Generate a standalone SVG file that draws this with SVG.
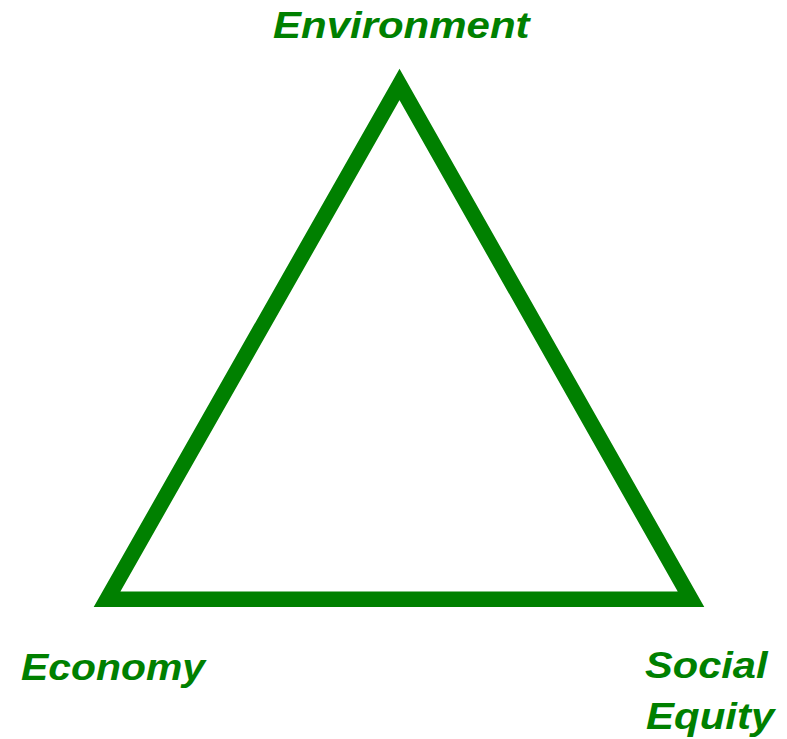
<svg xmlns="http://www.w3.org/2000/svg" width="787" height="739" viewBox="0 0 787 739">
<style>
.lbl{font-family:"Liberation Sans",Arial,sans-serif;font-weight:bold;font-style:italic;font-size:36.5px;fill:#008000}
.tri{fill:none;stroke:#008000;stroke-width:15.5;stroke-linejoin:miter;stroke-miterlimit:10}
</style>
<rect width="787" height="739" fill="#ffffff"/>
<g id="triangle">
<polygon class="tri" points="399.5,84.5 107,599.3 691,599.3"/>
</g>
<g id="environment"><text class="lbl" transform="translate(273,38) scale(1.15,1)">Environment</text></g>
<g id="economy"><text class="lbl" transform="translate(21,679.5) scale(1.12,1)">Economy</text></g>
<g id="social-equity"><text class="lbl" transform="translate(645,678) scale(1.14,1)">Social</text><text class="lbl" transform="translate(646,729) scale(1.15,1)">Equity</text></g>
</svg>
